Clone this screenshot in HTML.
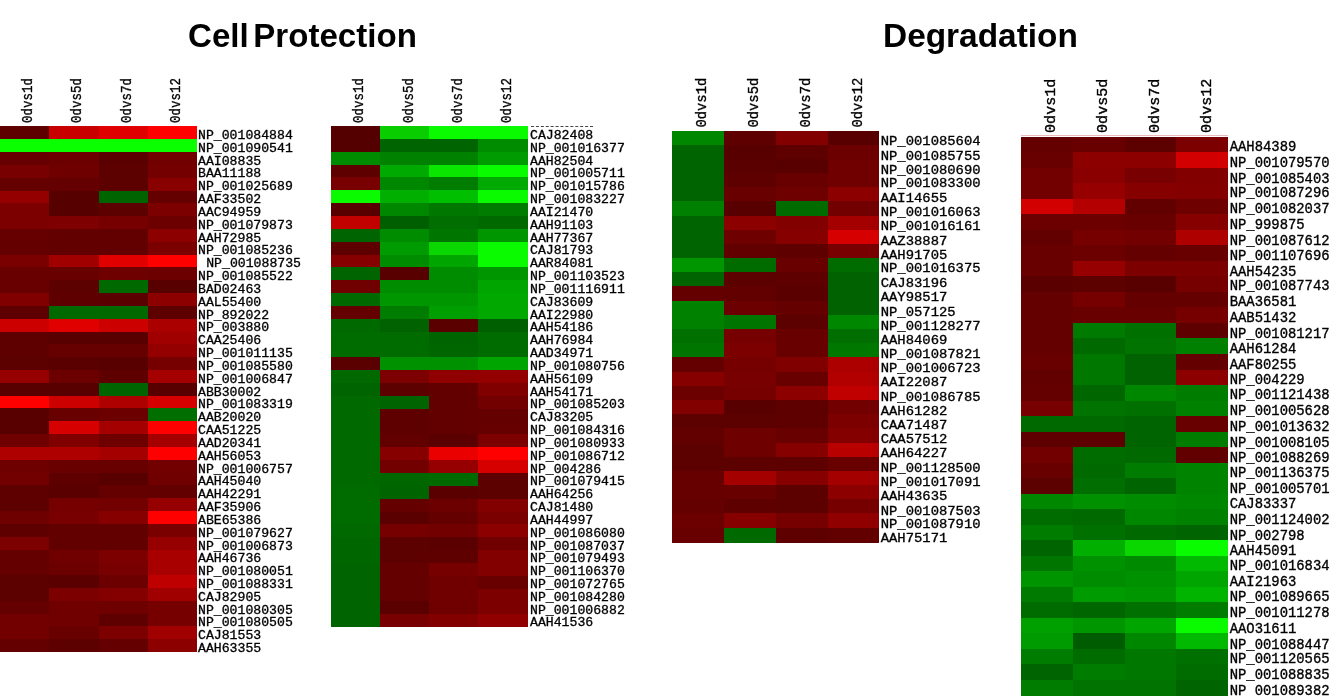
<!DOCTYPE html>
<html lang="en"><head><meta charset="utf-8"><title>Cell Protection / Degradation heatmaps</title>
<style>
html,body{margin:0;padding:0;background:#fff;}
body{width:1330px;height:696px;position:relative;overflow:hidden;font-family:"Liberation Mono",monospace;color:#000;-webkit-text-stroke:0.3px #000;}
.title{-webkit-text-stroke:0;position:absolute;top:0;font-family:"Liberation Sans",sans-serif;font-weight:bold;font-size:34px;line-height:40px;white-space:nowrap;transform-origin:0 0;letter-spacing:0;}
.hm{position:absolute;transform-origin:0 0;width:320px;}
.g{position:absolute;}
.g i{display:block;position:absolute;}
.ch{position:absolute;top:43.30px;font-size:12.5px;line-height:12px;height:12px;white-space:nowrap;transform-origin:0 0;transform:rotate(-90deg) scale(1,1.15);margin-left:-2.4px;}
.labels{position:absolute;left:197.80px;top:50.00px;font-size:12.2px;line-height:12.83px;letter-spacing:0;white-space:nowrap;transform-origin:0 0;transform:scaleX(1.08);}
.labels div{height:12.83px;}
</style></head><body>

<div class="title" id="t1" style="left:187.5px;top:14.7px;transform:scaleX(0.973);word-spacing:-4.7px">Cell Protection</div>
<div class="title" id="t2" style="left:882.8px;top:14.7px;transform:scaleX(0.9826)">Degradation</div>
<div class="g" style="left:0.00px;top:0px">
<i style="left:0.00px;top:126.00px;width:49.50px;height:13.50px;background:rgb(95,0,0)"></i>
<i style="left:49.00px;top:126.00px;width:50.00px;height:13.50px;background:rgb(200,0,0)"></i>
<i style="left:98.50px;top:126.00px;width:50.00px;height:13.50px;background:rgb(225,0,0)"></i>
<i style="left:148.00px;top:126.00px;width:49.00px;height:13.50px;background:rgb(255,0,0)"></i>
<i style="left:0.00px;top:139.00px;width:49.50px;height:13.50px;background:rgb(10,255,0)"></i>
<i style="left:49.00px;top:139.00px;width:50.00px;height:13.50px;background:rgb(10,255,0)"></i>
<i style="left:98.50px;top:139.00px;width:50.00px;height:13.50px;background:rgb(10,255,0)"></i>
<i style="left:148.00px;top:139.00px;width:49.00px;height:13.50px;background:rgb(10,255,0)"></i>
<i style="left:0.00px;top:152.00px;width:49.50px;height:13.00px;background:rgb(102,0,0)"></i>
<i style="left:49.00px;top:152.00px;width:50.00px;height:13.00px;background:rgb(108,0,0)"></i>
<i style="left:98.50px;top:152.00px;width:50.00px;height:13.00px;background:rgb(90,0,0)"></i>
<i style="left:148.00px;top:152.00px;width:49.00px;height:13.00px;background:rgb(113,0,0)"></i>
<i style="left:0.00px;top:164.50px;width:49.50px;height:13.50px;background:rgb(120,0,0)"></i>
<i style="left:49.00px;top:164.50px;width:50.00px;height:13.50px;background:rgb(110,0,0)"></i>
<i style="left:98.50px;top:164.50px;width:50.00px;height:13.50px;background:rgb(92,0,0)"></i>
<i style="left:148.00px;top:164.50px;width:49.00px;height:13.50px;background:rgb(116,0,0)"></i>
<i style="left:0.00px;top:177.50px;width:49.50px;height:13.50px;background:rgb(100,0,0)"></i>
<i style="left:49.00px;top:177.50px;width:50.00px;height:13.50px;background:rgb(100,0,0)"></i>
<i style="left:98.50px;top:177.50px;width:50.00px;height:13.50px;background:rgb(92,0,0)"></i>
<i style="left:148.00px;top:177.50px;width:49.00px;height:13.50px;background:rgb(137,0,0)"></i>
<i style="left:0.00px;top:190.50px;width:49.50px;height:13.00px;background:rgb(148,0,0)"></i>
<i style="left:49.00px;top:190.50px;width:50.00px;height:13.00px;background:rgb(87,0,0)"></i>
<i style="left:98.50px;top:190.50px;width:50.00px;height:13.00px;background:rgb(0,100,0)"></i>
<i style="left:148.00px;top:190.50px;width:49.00px;height:13.00px;background:rgb(100,0,0)"></i>
<i style="left:0.00px;top:203.00px;width:49.50px;height:13.50px;background:rgb(125,0,0)"></i>
<i style="left:49.00px;top:203.00px;width:50.00px;height:13.50px;background:rgb(87,0,0)"></i>
<i style="left:98.50px;top:203.00px;width:50.00px;height:13.50px;background:rgb(93,0,0)"></i>
<i style="left:148.00px;top:203.00px;width:49.00px;height:13.50px;background:rgb(125,0,0)"></i>
<i style="left:0.00px;top:216.00px;width:49.50px;height:13.50px;background:rgb(125,0,0)"></i>
<i style="left:49.00px;top:216.00px;width:50.00px;height:13.50px;background:rgb(127,0,0)"></i>
<i style="left:98.50px;top:216.00px;width:50.00px;height:13.50px;background:rgb(118,0,0)"></i>
<i style="left:148.00px;top:216.00px;width:49.00px;height:13.50px;background:rgb(108,0,0)"></i>
<i style="left:0.00px;top:229.00px;width:49.50px;height:13.00px;background:rgb(102,0,0)"></i>
<i style="left:49.00px;top:229.00px;width:50.00px;height:13.00px;background:rgb(98,0,0)"></i>
<i style="left:98.50px;top:229.00px;width:50.00px;height:13.00px;background:rgb(98,0,0)"></i>
<i style="left:148.00px;top:229.00px;width:49.00px;height:13.00px;background:rgb(140,0,0)"></i>
<i style="left:0.00px;top:241.50px;width:49.50px;height:13.50px;background:rgb(100,0,0)"></i>
<i style="left:49.00px;top:241.50px;width:50.00px;height:13.50px;background:rgb(98,0,0)"></i>
<i style="left:98.50px;top:241.50px;width:50.00px;height:13.50px;background:rgb(98,0,0)"></i>
<i style="left:148.00px;top:241.50px;width:49.00px;height:13.50px;background:rgb(123,0,0)"></i>
<i style="left:0.00px;top:254.50px;width:49.50px;height:13.00px;background:rgb(122,0,0)"></i>
<i style="left:49.00px;top:254.50px;width:50.00px;height:13.00px;background:rgb(160,0,0)"></i>
<i style="left:98.50px;top:254.50px;width:50.00px;height:13.00px;background:rgb(225,0,0)"></i>
<i style="left:148.00px;top:254.50px;width:49.00px;height:13.00px;background:rgb(255,0,0)"></i>
<i style="left:0.00px;top:267.00px;width:49.50px;height:13.50px;background:rgb(105,0,0)"></i>
<i style="left:49.00px;top:267.00px;width:50.00px;height:13.50px;background:rgb(105,0,0)"></i>
<i style="left:98.50px;top:267.00px;width:50.00px;height:13.50px;background:rgb(110,0,0)"></i>
<i style="left:148.00px;top:267.00px;width:49.00px;height:13.50px;background:rgb(108,0,0)"></i>
<i style="left:0.00px;top:280.00px;width:49.50px;height:13.50px;background:rgb(105,0,0)"></i>
<i style="left:49.00px;top:280.00px;width:50.00px;height:13.50px;background:rgb(92,0,0)"></i>
<i style="left:98.50px;top:280.00px;width:50.00px;height:13.50px;background:rgb(0,105,0)"></i>
<i style="left:148.00px;top:280.00px;width:49.00px;height:13.50px;background:rgb(88,0,0)"></i>
<i style="left:0.00px;top:293.00px;width:49.50px;height:13.00px;background:rgb(128,0,0)"></i>
<i style="left:49.00px;top:293.00px;width:50.00px;height:13.00px;background:rgb(95,0,0)"></i>
<i style="left:98.50px;top:293.00px;width:50.00px;height:13.00px;background:rgb(90,0,0)"></i>
<i style="left:148.00px;top:293.00px;width:49.00px;height:13.00px;background:rgb(140,0,0)"></i>
<i style="left:0.00px;top:305.50px;width:49.50px;height:13.50px;background:rgb(95,0,0)"></i>
<i style="left:49.00px;top:305.50px;width:50.00px;height:13.50px;background:rgb(0,105,0)"></i>
<i style="left:98.50px;top:305.50px;width:50.00px;height:13.50px;background:rgb(0,105,0)"></i>
<i style="left:148.00px;top:305.50px;width:49.00px;height:13.50px;background:rgb(92,0,0)"></i>
<i style="left:0.00px;top:318.50px;width:49.50px;height:13.50px;background:rgb(205,0,0)"></i>
<i style="left:49.00px;top:318.50px;width:50.00px;height:13.50px;background:rgb(225,0,0)"></i>
<i style="left:98.50px;top:318.50px;width:50.00px;height:13.50px;background:rgb(205,0,0)"></i>
<i style="left:148.00px;top:318.50px;width:49.00px;height:13.50px;background:rgb(170,0,0)"></i>
<i style="left:0.00px;top:331.50px;width:49.50px;height:13.00px;background:rgb(95,0,0)"></i>
<i style="left:49.00px;top:331.50px;width:50.00px;height:13.00px;background:rgb(88,0,0)"></i>
<i style="left:98.50px;top:331.50px;width:50.00px;height:13.00px;background:rgb(88,0,0)"></i>
<i style="left:148.00px;top:331.50px;width:49.00px;height:13.00px;background:rgb(160,0,0)"></i>
<i style="left:0.00px;top:344.00px;width:49.50px;height:13.50px;background:rgb(95,0,0)"></i>
<i style="left:49.00px;top:344.00px;width:50.00px;height:13.50px;background:rgb(102,0,0)"></i>
<i style="left:98.50px;top:344.00px;width:50.00px;height:13.50px;background:rgb(102,0,0)"></i>
<i style="left:148.00px;top:344.00px;width:49.00px;height:13.50px;background:rgb(148,0,0)"></i>
<i style="left:0.00px;top:357.00px;width:49.50px;height:13.50px;background:rgb(92,0,0)"></i>
<i style="left:49.00px;top:357.00px;width:50.00px;height:13.50px;background:rgb(90,0,0)"></i>
<i style="left:98.50px;top:357.00px;width:50.00px;height:13.50px;background:rgb(88,0,0)"></i>
<i style="left:148.00px;top:357.00px;width:49.00px;height:13.50px;background:rgb(118,0,0)"></i>
<i style="left:0.00px;top:370.00px;width:49.50px;height:13.00px;background:rgb(150,0,0)"></i>
<i style="left:49.00px;top:370.00px;width:50.00px;height:13.00px;background:rgb(108,0,0)"></i>
<i style="left:98.50px;top:370.00px;width:50.00px;height:13.00px;background:rgb(95,0,0)"></i>
<i style="left:148.00px;top:370.00px;width:49.00px;height:13.00px;background:rgb(165,0,0)"></i>
<i style="left:0.00px;top:382.50px;width:49.50px;height:13.50px;background:rgb(88,0,0)"></i>
<i style="left:49.00px;top:382.50px;width:50.00px;height:13.50px;background:rgb(88,0,0)"></i>
<i style="left:98.50px;top:382.50px;width:50.00px;height:13.50px;background:rgb(0,100,0)"></i>
<i style="left:148.00px;top:382.50px;width:49.00px;height:13.50px;background:rgb(88,0,0)"></i>
<i style="left:0.00px;top:395.50px;width:49.50px;height:13.00px;background:rgb(255,0,0)"></i>
<i style="left:49.00px;top:395.50px;width:50.00px;height:13.00px;background:rgb(205,0,0)"></i>
<i style="left:98.50px;top:395.50px;width:50.00px;height:13.00px;background:rgb(175,0,0)"></i>
<i style="left:148.00px;top:395.50px;width:49.00px;height:13.00px;background:rgb(215,0,0)"></i>
<i style="left:0.00px;top:408.00px;width:49.50px;height:13.50px;background:rgb(88,0,0)"></i>
<i style="left:49.00px;top:408.00px;width:50.00px;height:13.50px;background:rgb(105,0,0)"></i>
<i style="left:98.50px;top:408.00px;width:50.00px;height:13.50px;background:rgb(108,0,0)"></i>
<i style="left:148.00px;top:408.00px;width:49.00px;height:13.50px;background:rgb(0,110,0)"></i>
<i style="left:0.00px;top:421.00px;width:49.50px;height:13.50px;background:rgb(88,0,0)"></i>
<i style="left:49.00px;top:421.00px;width:50.00px;height:13.50px;background:rgb(215,0,0)"></i>
<i style="left:98.50px;top:421.00px;width:50.00px;height:13.50px;background:rgb(165,0,0)"></i>
<i style="left:148.00px;top:421.00px;width:49.00px;height:13.50px;background:rgb(255,0,0)"></i>
<i style="left:0.00px;top:434.00px;width:49.50px;height:13.00px;background:rgb(110,0,0)"></i>
<i style="left:49.00px;top:434.00px;width:50.00px;height:13.00px;background:rgb(128,0,0)"></i>
<i style="left:98.50px;top:434.00px;width:50.00px;height:13.00px;background:rgb(110,0,0)"></i>
<i style="left:148.00px;top:434.00px;width:49.00px;height:13.00px;background:rgb(165,0,0)"></i>
<i style="left:0.00px;top:446.50px;width:49.50px;height:13.50px;background:rgb(175,0,0)"></i>
<i style="left:49.00px;top:446.50px;width:50.00px;height:13.50px;background:rgb(175,0,0)"></i>
<i style="left:98.50px;top:446.50px;width:50.00px;height:13.50px;background:rgb(165,0,0)"></i>
<i style="left:148.00px;top:446.50px;width:49.00px;height:13.50px;background:rgb(255,0,0)"></i>
<i style="left:0.00px;top:459.50px;width:49.50px;height:13.50px;background:rgb(110,0,0)"></i>
<i style="left:49.00px;top:459.50px;width:50.00px;height:13.50px;background:rgb(105,0,0)"></i>
<i style="left:98.50px;top:459.50px;width:50.00px;height:13.50px;background:rgb(105,0,0)"></i>
<i style="left:148.00px;top:459.50px;width:49.00px;height:13.50px;background:rgb(115,0,0)"></i>
<i style="left:0.00px;top:472.50px;width:49.50px;height:13.00px;background:rgb(115,0,0)"></i>
<i style="left:49.00px;top:472.50px;width:50.00px;height:13.00px;background:rgb(95,0,0)"></i>
<i style="left:98.50px;top:472.50px;width:50.00px;height:13.00px;background:rgb(88,0,0)"></i>
<i style="left:148.00px;top:472.50px;width:49.00px;height:13.00px;background:rgb(112,0,0)"></i>
<i style="left:0.00px;top:485.00px;width:49.50px;height:13.50px;background:rgb(95,0,0)"></i>
<i style="left:49.00px;top:485.00px;width:50.00px;height:13.50px;background:rgb(90,0,0)"></i>
<i style="left:98.50px;top:485.00px;width:50.00px;height:13.50px;background:rgb(100,0,0)"></i>
<i style="left:148.00px;top:485.00px;width:49.00px;height:13.50px;background:rgb(98,0,0)"></i>
<i style="left:0.00px;top:498.00px;width:49.50px;height:13.50px;background:rgb(92,0,0)"></i>
<i style="left:49.00px;top:498.00px;width:50.00px;height:13.50px;background:rgb(118,0,0)"></i>
<i style="left:98.50px;top:498.00px;width:50.00px;height:13.50px;background:rgb(115,0,0)"></i>
<i style="left:148.00px;top:498.00px;width:49.00px;height:13.50px;background:rgb(150,0,0)"></i>
<i style="left:0.00px;top:511.00px;width:49.50px;height:13.00px;background:rgb(110,0,0)"></i>
<i style="left:49.00px;top:511.00px;width:50.00px;height:13.00px;background:rgb(120,0,0)"></i>
<i style="left:98.50px;top:511.00px;width:50.00px;height:13.00px;background:rgb(135,0,0)"></i>
<i style="left:148.00px;top:511.00px;width:49.00px;height:13.00px;background:rgb(255,0,0)"></i>
<i style="left:0.00px;top:523.50px;width:49.50px;height:13.50px;background:rgb(95,0,0)"></i>
<i style="left:49.00px;top:523.50px;width:50.00px;height:13.50px;background:rgb(98,0,0)"></i>
<i style="left:98.50px;top:523.50px;width:50.00px;height:13.50px;background:rgb(98,0,0)"></i>
<i style="left:148.00px;top:523.50px;width:49.00px;height:13.50px;background:rgb(122,0,0)"></i>
<i style="left:0.00px;top:536.50px;width:49.50px;height:13.50px;background:rgb(125,0,0)"></i>
<i style="left:49.00px;top:536.50px;width:50.00px;height:13.50px;background:rgb(98,0,0)"></i>
<i style="left:98.50px;top:536.50px;width:50.00px;height:13.50px;background:rgb(98,0,0)"></i>
<i style="left:148.00px;top:536.50px;width:49.00px;height:13.50px;background:rgb(150,0,0)"></i>
<i style="left:0.00px;top:549.50px;width:49.50px;height:13.00px;background:rgb(100,0,0)"></i>
<i style="left:49.00px;top:549.50px;width:50.00px;height:13.00px;background:rgb(112,0,0)"></i>
<i style="left:98.50px;top:549.50px;width:50.00px;height:13.00px;background:rgb(125,0,0)"></i>
<i style="left:148.00px;top:549.50px;width:49.00px;height:13.00px;background:rgb(168,0,0)"></i>
<i style="left:0.00px;top:562.00px;width:49.50px;height:13.50px;background:rgb(100,0,0)"></i>
<i style="left:49.00px;top:562.00px;width:50.00px;height:13.50px;background:rgb(108,0,0)"></i>
<i style="left:98.50px;top:562.00px;width:50.00px;height:13.50px;background:rgb(120,0,0)"></i>
<i style="left:148.00px;top:562.00px;width:49.00px;height:13.50px;background:rgb(168,0,0)"></i>
<i style="left:0.00px;top:575.00px;width:49.50px;height:13.00px;background:rgb(92,0,0)"></i>
<i style="left:49.00px;top:575.00px;width:50.00px;height:13.00px;background:rgb(90,0,0)"></i>
<i style="left:98.50px;top:575.00px;width:50.00px;height:13.00px;background:rgb(108,0,0)"></i>
<i style="left:148.00px;top:575.00px;width:49.00px;height:13.00px;background:rgb(190,0,0)"></i>
<i style="left:0.00px;top:587.50px;width:49.50px;height:13.50px;background:rgb(92,0,0)"></i>
<i style="left:49.00px;top:587.50px;width:50.00px;height:13.50px;background:rgb(125,0,0)"></i>
<i style="left:98.50px;top:587.50px;width:50.00px;height:13.50px;background:rgb(132,0,0)"></i>
<i style="left:148.00px;top:587.50px;width:49.00px;height:13.50px;background:rgb(160,0,0)"></i>
<i style="left:0.00px;top:600.50px;width:49.50px;height:13.50px;background:rgb(100,0,0)"></i>
<i style="left:49.00px;top:600.50px;width:50.00px;height:13.50px;background:rgb(112,0,0)"></i>
<i style="left:98.50px;top:600.50px;width:50.00px;height:13.50px;background:rgb(110,0,0)"></i>
<i style="left:148.00px;top:600.50px;width:49.00px;height:13.50px;background:rgb(118,0,0)"></i>
<i style="left:0.00px;top:613.50px;width:49.50px;height:13.00px;background:rgb(115,0,0)"></i>
<i style="left:49.00px;top:613.50px;width:50.00px;height:13.00px;background:rgb(112,0,0)"></i>
<i style="left:98.50px;top:613.50px;width:50.00px;height:13.00px;background:rgb(95,0,0)"></i>
<i style="left:148.00px;top:613.50px;width:49.00px;height:13.00px;background:rgb(118,0,0)"></i>
<i style="left:0.00px;top:626.00px;width:49.50px;height:13.50px;background:rgb(115,0,0)"></i>
<i style="left:49.00px;top:626.00px;width:50.00px;height:13.50px;background:rgb(105,0,0)"></i>
<i style="left:98.50px;top:626.00px;width:50.00px;height:13.50px;background:rgb(125,0,0)"></i>
<i style="left:148.00px;top:626.00px;width:49.00px;height:13.50px;background:rgb(160,0,0)"></i>
<i style="left:0.00px;top:639.00px;width:49.50px;height:13.00px;background:rgb(100,0,0)"></i>
<i style="left:49.00px;top:639.00px;width:50.00px;height:13.00px;background:rgb(92,0,0)"></i>
<i style="left:98.50px;top:639.00px;width:50.00px;height:13.00px;background:rgb(100,0,0)"></i>
<i style="left:148.00px;top:639.00px;width:49.00px;height:13.00px;background:rgb(140,0,0)"></i>
</div>
<div class="hm" style="left:0.00px;top:79.54px;transform:scale(1.0000,0.9992)">
<div class="ch" style="left:24.62px">0dvs1d</div>
<div class="ch" style="left:73.88px">0dvs5d</div>
<div class="ch" style="left:123.12px">0dvs7d</div>
<div class="ch" style="left:172.38px">0dvs12</div>
</div>
<div class="hm" style="left:0.00px;top:79.54px;transform:scale(1.0000,0.9992)">
<div class="labels">
<div>NP_001084884</div>
<div>NP_001090541</div>
<div>AAI08835</div>
<div>BAA11188</div>
<div>NP_001025689</div>
<div>AAF33502</div>
<div>AAC94959</div>
<div>NP_001079873</div>
<div>AAH72985</div>
<div>NP_001085236</div>
<div style="padding-left:7.6px">NP_001088735</div>
<div>NP_001085522</div>
<div>BAD02463</div>
<div>AAL55400</div>
<div>NP_892022</div>
<div>NP_003880</div>
<div>CAA25406</div>
<div>NP_001011135</div>
<div>NP_001085580</div>
<div>NP_001006847</div>
<div>ABB30002</div>
<div>NP_001083319</div>
<div>AAB20020</div>
<div>CAA51225</div>
<div>AAD20341</div>
<div>AAH56053</div>
<div>NP_001006757</div>
<div>AAH45040</div>
<div>AAH42291</div>
<div>AAF35906</div>
<div>ABE65386</div>
<div>NP_001079627</div>
<div>NP_001006873</div>
<div>AAH46736</div>
<div>NP_001080051</div>
<div>NP_001088331</div>
<div>CAJ82905</div>
<div>NP_001080305</div>
<div>NP_001080505</div>
<div>CAJ81553</div>
<div>AAH63355</div>
</div>
</div>
<div class="g" style="left:331.10px;top:0px">
<i style="left:-0.10px;top:126.00px;width:50.00px;height:13.00px;background:rgb(85,0,0)"></i>
<i style="left:49.40px;top:126.00px;width:49.50px;height:13.00px;background:rgb(10,205,0)"></i>
<i style="left:98.40px;top:126.00px;width:49.50px;height:13.00px;background:rgb(10,250,0)"></i>
<i style="left:147.40px;top:126.00px;width:49.50px;height:13.00px;background:rgb(10,250,0)"></i>
<i style="left:-0.10px;top:138.50px;width:50.00px;height:13.50px;background:rgb(85,0,0)"></i>
<i style="left:49.40px;top:138.50px;width:49.50px;height:13.50px;background:rgb(0,100,0)"></i>
<i style="left:98.40px;top:138.50px;width:49.50px;height:13.50px;background:rgb(0,100,0)"></i>
<i style="left:147.40px;top:138.50px;width:49.50px;height:13.50px;background:rgb(0,140,0)"></i>
<i style="left:-0.10px;top:151.50px;width:50.00px;height:13.50px;background:rgb(0,140,0)"></i>
<i style="left:49.40px;top:151.50px;width:49.50px;height:13.50px;background:rgb(0,130,0)"></i>
<i style="left:98.40px;top:151.50px;width:49.50px;height:13.50px;background:rgb(0,130,0)"></i>
<i style="left:147.40px;top:151.50px;width:49.50px;height:13.50px;background:rgb(0,155,0)"></i>
<i style="left:-0.10px;top:164.50px;width:50.00px;height:13.00px;background:rgb(95,0,0)"></i>
<i style="left:49.40px;top:164.50px;width:49.50px;height:13.00px;background:rgb(0,170,0)"></i>
<i style="left:98.40px;top:164.50px;width:49.50px;height:13.00px;background:rgb(10,230,0)"></i>
<i style="left:147.40px;top:164.50px;width:49.50px;height:13.00px;background:rgb(10,252,0)"></i>
<i style="left:-0.10px;top:177.00px;width:50.00px;height:13.50px;background:rgb(120,0,0)"></i>
<i style="left:49.40px;top:177.00px;width:49.50px;height:13.50px;background:rgb(0,135,0)"></i>
<i style="left:98.40px;top:177.00px;width:49.50px;height:13.50px;background:rgb(0,125,0)"></i>
<i style="left:147.40px;top:177.00px;width:49.50px;height:13.50px;background:rgb(0,170,0)"></i>
<i style="left:-0.10px;top:190.00px;width:50.00px;height:13.50px;background:rgb(10,250,0)"></i>
<i style="left:49.40px;top:190.00px;width:49.50px;height:13.50px;background:rgb(0,175,0)"></i>
<i style="left:98.40px;top:190.00px;width:49.50px;height:13.50px;background:rgb(0,190,0)"></i>
<i style="left:147.40px;top:190.00px;width:49.50px;height:13.50px;background:rgb(10,250,0)"></i>
<i style="left:-0.10px;top:203.00px;width:50.00px;height:13.50px;background:rgb(88,0,0)"></i>
<i style="left:49.40px;top:203.00px;width:49.50px;height:13.50px;background:rgb(0,135,0)"></i>
<i style="left:98.40px;top:203.00px;width:49.50px;height:13.50px;background:rgb(0,120,0)"></i>
<i style="left:147.40px;top:203.00px;width:49.50px;height:13.50px;background:rgb(0,125,0)"></i>
<i style="left:-0.10px;top:216.00px;width:50.00px;height:13.00px;background:rgb(193,0,0)"></i>
<i style="left:49.40px;top:216.00px;width:49.50px;height:13.00px;background:rgb(0,95,0)"></i>
<i style="left:98.40px;top:216.00px;width:49.50px;height:13.00px;background:rgb(0,110,0)"></i>
<i style="left:147.40px;top:216.00px;width:49.50px;height:13.00px;background:rgb(0,105,0)"></i>
<i style="left:-0.10px;top:228.50px;width:50.00px;height:13.50px;background:rgb(0,100,0)"></i>
<i style="left:49.40px;top:228.50px;width:49.50px;height:13.50px;background:rgb(0,140,0)"></i>
<i style="left:98.40px;top:228.50px;width:49.50px;height:13.50px;background:rgb(0,118,0)"></i>
<i style="left:147.40px;top:228.50px;width:49.50px;height:13.50px;background:rgb(0,150,0)"></i>
<i style="left:-0.10px;top:241.50px;width:50.00px;height:13.50px;background:rgb(95,0,0)"></i>
<i style="left:49.40px;top:241.50px;width:49.50px;height:13.50px;background:rgb(0,155,0)"></i>
<i style="left:98.40px;top:241.50px;width:49.50px;height:13.50px;background:rgb(10,215,0)"></i>
<i style="left:147.40px;top:241.50px;width:49.50px;height:13.50px;background:rgb(10,250,0)"></i>
<i style="left:-0.10px;top:254.50px;width:50.00px;height:13.00px;background:rgb(135,0,0)"></i>
<i style="left:49.40px;top:254.50px;width:49.50px;height:13.00px;background:rgb(0,140,0)"></i>
<i style="left:98.40px;top:254.50px;width:49.50px;height:13.00px;background:rgb(0,165,0)"></i>
<i style="left:147.40px;top:254.50px;width:49.50px;height:13.00px;background:rgb(10,250,0)"></i>
<i style="left:-0.10px;top:267.00px;width:50.00px;height:13.50px;background:rgb(0,100,0)"></i>
<i style="left:49.40px;top:267.00px;width:49.50px;height:13.50px;background:rgb(88,0,0)"></i>
<i style="left:98.40px;top:267.00px;width:49.50px;height:13.50px;background:rgb(0,140,0)"></i>
<i style="left:147.40px;top:267.00px;width:49.50px;height:13.50px;background:rgb(0,150,0)"></i>
<i style="left:-0.10px;top:280.00px;width:50.00px;height:13.50px;background:rgb(112,0,0)"></i>
<i style="left:49.40px;top:280.00px;width:49.50px;height:13.50px;background:rgb(0,140,0)"></i>
<i style="left:98.40px;top:280.00px;width:49.50px;height:13.50px;background:rgb(0,140,0)"></i>
<i style="left:147.40px;top:280.00px;width:49.50px;height:13.50px;background:rgb(0,165,0)"></i>
<i style="left:-0.10px;top:293.00px;width:50.00px;height:13.00px;background:rgb(0,105,0)"></i>
<i style="left:49.40px;top:293.00px;width:49.50px;height:13.00px;background:rgb(0,150,0)"></i>
<i style="left:98.40px;top:293.00px;width:49.50px;height:13.00px;background:rgb(0,150,0)"></i>
<i style="left:147.40px;top:293.00px;width:49.50px;height:13.00px;background:rgb(0,168,0)"></i>
<i style="left:-0.10px;top:305.50px;width:50.00px;height:13.50px;background:rgb(100,0,0)"></i>
<i style="left:49.40px;top:305.50px;width:49.50px;height:13.50px;background:rgb(0,125,0)"></i>
<i style="left:98.40px;top:305.50px;width:49.50px;height:13.50px;background:rgb(0,158,0)"></i>
<i style="left:147.40px;top:305.50px;width:49.50px;height:13.50px;background:rgb(0,168,0)"></i>
<i style="left:-0.10px;top:318.50px;width:50.00px;height:13.50px;background:rgb(0,105,0)"></i>
<i style="left:49.40px;top:318.50px;width:49.50px;height:13.50px;background:rgb(0,98,0)"></i>
<i style="left:98.40px;top:318.50px;width:49.50px;height:13.50px;background:rgb(90,0,0)"></i>
<i style="left:147.40px;top:318.50px;width:49.50px;height:13.50px;background:rgb(0,95,0)"></i>
<i style="left:-0.10px;top:331.50px;width:50.00px;height:13.00px;background:rgb(0,108,0)"></i>
<i style="left:49.40px;top:331.50px;width:49.50px;height:13.00px;background:rgb(0,108,0)"></i>
<i style="left:98.40px;top:331.50px;width:49.50px;height:13.00px;background:rgb(0,100,0)"></i>
<i style="left:147.40px;top:331.50px;width:49.50px;height:13.00px;background:rgb(0,108,0)"></i>
<i style="left:-0.10px;top:344.00px;width:50.00px;height:13.50px;background:rgb(0,108,0)"></i>
<i style="left:49.40px;top:344.00px;width:49.50px;height:13.50px;background:rgb(0,108,0)"></i>
<i style="left:98.40px;top:344.00px;width:49.50px;height:13.50px;background:rgb(0,102,0)"></i>
<i style="left:147.40px;top:344.00px;width:49.50px;height:13.50px;background:rgb(0,108,0)"></i>
<i style="left:-0.10px;top:357.00px;width:50.00px;height:13.50px;background:rgb(90,0,0)"></i>
<i style="left:49.40px;top:357.00px;width:49.50px;height:13.50px;background:rgb(0,145,0)"></i>
<i style="left:98.40px;top:357.00px;width:49.50px;height:13.50px;background:rgb(0,145,0)"></i>
<i style="left:147.40px;top:357.00px;width:49.50px;height:13.50px;background:rgb(0,165,0)"></i>
<i style="left:-0.10px;top:370.00px;width:50.00px;height:13.50px;background:rgb(0,105,0)"></i>
<i style="left:49.40px;top:370.00px;width:49.50px;height:13.50px;background:rgb(125,0,0)"></i>
<i style="left:98.40px;top:370.00px;width:49.50px;height:13.50px;background:rgb(145,0,0)"></i>
<i style="left:147.40px;top:370.00px;width:49.50px;height:13.50px;background:rgb(148,0,0)"></i>
<i style="left:-0.10px;top:383.00px;width:50.00px;height:13.00px;background:rgb(0,100,0)"></i>
<i style="left:49.40px;top:383.00px;width:49.50px;height:13.00px;background:rgb(92,0,0)"></i>
<i style="left:98.40px;top:383.00px;width:49.50px;height:13.00px;background:rgb(98,0,0)"></i>
<i style="left:147.40px;top:383.00px;width:49.50px;height:13.00px;background:rgb(128,0,0)"></i>
<i style="left:-0.10px;top:395.50px;width:50.00px;height:13.50px;background:rgb(0,105,0)"></i>
<i style="left:49.40px;top:395.50px;width:49.50px;height:13.50px;background:rgb(0,100,0)"></i>
<i style="left:98.40px;top:395.50px;width:49.50px;height:13.50px;background:rgb(98,0,0)"></i>
<i style="left:147.40px;top:395.50px;width:49.50px;height:13.50px;background:rgb(115,0,0)"></i>
<i style="left:-0.10px;top:408.50px;width:50.00px;height:13.50px;background:rgb(0,105,0)"></i>
<i style="left:49.40px;top:408.50px;width:49.50px;height:13.50px;background:rgb(95,0,0)"></i>
<i style="left:98.40px;top:408.50px;width:49.50px;height:13.50px;background:rgb(98,0,0)"></i>
<i style="left:147.40px;top:408.50px;width:49.50px;height:13.50px;background:rgb(100,0,0)"></i>
<i style="left:-0.10px;top:421.50px;width:50.00px;height:13.00px;background:rgb(0,105,0)"></i>
<i style="left:49.40px;top:421.50px;width:49.50px;height:13.00px;background:rgb(95,0,0)"></i>
<i style="left:98.40px;top:421.50px;width:49.50px;height:13.00px;background:rgb(98,0,0)"></i>
<i style="left:147.40px;top:421.50px;width:49.50px;height:13.00px;background:rgb(102,0,0)"></i>
<i style="left:-0.10px;top:434.00px;width:50.00px;height:13.50px;background:rgb(0,105,0)"></i>
<i style="left:49.40px;top:434.00px;width:49.50px;height:13.50px;background:rgb(98,0,0)"></i>
<i style="left:98.40px;top:434.00px;width:49.50px;height:13.50px;background:rgb(90,0,0)"></i>
<i style="left:147.40px;top:434.00px;width:49.50px;height:13.50px;background:rgb(125,0,0)"></i>
<i style="left:-0.10px;top:447.00px;width:50.00px;height:13.50px;background:rgb(0,105,0)"></i>
<i style="left:49.40px;top:447.00px;width:49.50px;height:13.50px;background:rgb(135,0,0)"></i>
<i style="left:98.40px;top:447.00px;width:49.50px;height:13.50px;background:rgb(235,0,0)"></i>
<i style="left:147.40px;top:447.00px;width:49.50px;height:13.50px;background:rgb(255,0,0)"></i>
<i style="left:-0.10px;top:460.00px;width:50.00px;height:13.50px;background:rgb(0,105,0)"></i>
<i style="left:49.40px;top:460.00px;width:49.50px;height:13.50px;background:rgb(115,0,0)"></i>
<i style="left:98.40px;top:460.00px;width:49.50px;height:13.50px;background:rgb(150,0,0)"></i>
<i style="left:147.40px;top:460.00px;width:49.50px;height:13.50px;background:rgb(215,0,0)"></i>
<i style="left:-0.10px;top:473.00px;width:50.00px;height:13.00px;background:rgb(0,105,0)"></i>
<i style="left:49.40px;top:473.00px;width:49.50px;height:13.00px;background:rgb(0,102,0)"></i>
<i style="left:98.40px;top:473.00px;width:49.50px;height:13.00px;background:rgb(0,105,0)"></i>
<i style="left:147.40px;top:473.00px;width:49.50px;height:13.00px;background:rgb(92,0,0)"></i>
<i style="left:-0.10px;top:485.50px;width:50.00px;height:13.50px;background:rgb(0,108,0)"></i>
<i style="left:49.40px;top:485.50px;width:49.50px;height:13.50px;background:rgb(0,100,0)"></i>
<i style="left:98.40px;top:485.50px;width:49.50px;height:13.50px;background:rgb(90,0,0)"></i>
<i style="left:147.40px;top:485.50px;width:49.50px;height:13.50px;background:rgb(92,0,0)"></i>
<i style="left:-0.10px;top:498.50px;width:50.00px;height:13.50px;background:rgb(0,108,0)"></i>
<i style="left:49.40px;top:498.50px;width:49.50px;height:13.50px;background:rgb(100,0,0)"></i>
<i style="left:98.40px;top:498.50px;width:49.50px;height:13.50px;background:rgb(108,0,0)"></i>
<i style="left:147.40px;top:498.50px;width:49.50px;height:13.50px;background:rgb(130,0,0)"></i>
<i style="left:-0.10px;top:511.50px;width:50.00px;height:13.00px;background:rgb(0,108,0)"></i>
<i style="left:49.40px;top:511.50px;width:49.50px;height:13.00px;background:rgb(90,0,0)"></i>
<i style="left:98.40px;top:511.50px;width:49.50px;height:13.00px;background:rgb(100,0,0)"></i>
<i style="left:147.40px;top:511.50px;width:49.50px;height:13.00px;background:rgb(122,0,0)"></i>
<i style="left:-0.10px;top:524.00px;width:50.00px;height:13.50px;background:rgb(0,105,0)"></i>
<i style="left:49.40px;top:524.00px;width:49.50px;height:13.50px;background:rgb(118,0,0)"></i>
<i style="left:98.40px;top:524.00px;width:49.50px;height:13.50px;background:rgb(115,0,0)"></i>
<i style="left:147.40px;top:524.00px;width:49.50px;height:13.50px;background:rgb(140,0,0)"></i>
<i style="left:-0.10px;top:537.00px;width:50.00px;height:13.50px;background:rgb(0,102,0)"></i>
<i style="left:49.40px;top:537.00px;width:49.50px;height:13.50px;background:rgb(92,0,0)"></i>
<i style="left:98.40px;top:537.00px;width:49.50px;height:13.50px;background:rgb(90,0,0)"></i>
<i style="left:147.40px;top:537.00px;width:49.50px;height:13.50px;background:rgb(112,0,0)"></i>
<i style="left:-0.10px;top:550.00px;width:50.00px;height:13.00px;background:rgb(0,102,0)"></i>
<i style="left:49.40px;top:550.00px;width:49.50px;height:13.00px;background:rgb(92,0,0)"></i>
<i style="left:98.40px;top:550.00px;width:49.50px;height:13.00px;background:rgb(95,0,0)"></i>
<i style="left:147.40px;top:550.00px;width:49.50px;height:13.00px;background:rgb(130,0,0)"></i>
<i style="left:-0.10px;top:562.50px;width:50.00px;height:13.50px;background:rgb(0,100,0)"></i>
<i style="left:49.40px;top:562.50px;width:49.50px;height:13.50px;background:rgb(100,0,0)"></i>
<i style="left:98.40px;top:562.50px;width:49.50px;height:13.50px;background:rgb(118,0,0)"></i>
<i style="left:147.40px;top:562.50px;width:49.50px;height:13.50px;background:rgb(130,0,0)"></i>
<i style="left:-0.10px;top:575.50px;width:50.00px;height:13.50px;background:rgb(0,100,0)"></i>
<i style="left:49.40px;top:575.50px;width:49.50px;height:13.50px;background:rgb(100,0,0)"></i>
<i style="left:98.40px;top:575.50px;width:49.50px;height:13.50px;background:rgb(112,0,0)"></i>
<i style="left:147.40px;top:575.50px;width:49.50px;height:13.50px;background:rgb(105,0,0)"></i>
<i style="left:-0.10px;top:588.50px;width:50.00px;height:13.00px;background:rgb(0,100,0)"></i>
<i style="left:49.40px;top:588.50px;width:49.50px;height:13.00px;background:rgb(100,0,0)"></i>
<i style="left:98.40px;top:588.50px;width:49.50px;height:13.00px;background:rgb(112,0,0)"></i>
<i style="left:147.40px;top:588.50px;width:49.50px;height:13.00px;background:rgb(125,0,0)"></i>
<i style="left:-0.10px;top:601.00px;width:50.00px;height:13.50px;background:rgb(0,100,0)"></i>
<i style="left:49.40px;top:601.00px;width:49.50px;height:13.50px;background:rgb(90,0,0)"></i>
<i style="left:98.40px;top:601.00px;width:49.50px;height:13.50px;background:rgb(110,0,0)"></i>
<i style="left:147.40px;top:601.00px;width:49.50px;height:13.50px;background:rgb(125,0,0)"></i>
<i style="left:-0.10px;top:614.00px;width:50.00px;height:12.50px;background:rgb(0,100,0)"></i>
<i style="left:49.40px;top:614.00px;width:49.50px;height:12.50px;background:rgb(120,0,0)"></i>
<i style="left:98.40px;top:614.00px;width:49.50px;height:12.50px;background:rgb(130,0,0)"></i>
<i style="left:147.40px;top:614.00px;width:49.50px;height:12.50px;background:rgb(145,0,0)"></i>
</div>
<div class="hm" style="left:331.10px;top:79.54px;transform:scale(1.0000,0.9992)">
<div class="ch" style="left:24.62px">0dvs1d</div>
<div class="ch" style="left:73.88px">0dvs5d</div>
<div class="ch" style="left:123.12px">0dvs7d</div>
<div class="ch" style="left:172.38px">0dvs12</div>
</div>
<div class="hm" style="left:332.10px;top:80.44px;transform:scale(1.0000,0.9992)">
<div class="labels">
<div>CAJ82408</div>
<div>NP_001016377</div>
<div>AAH82504</div>
<div>NP_001005711</div>
<div>NP_001015786</div>
<div>NP_001083227</div>
<div>AAI21470</div>
<div>AAH91103</div>
<div>AAH77367</div>
<div>CAJ81793</div>
<div>AAR84081</div>
<div>NP_001103523</div>
<div>NP_001116911</div>
<div>CAJ83609</div>
<div>AAI22980</div>
<div>AAH54186</div>
<div>AAH76984</div>
<div>AAD34971</div>
<div>NP_001080756</div>
<div>AAH56109</div>
<div>AAH54171</div>
<div>NP_001085203</div>
<div>CAJ83205</div>
<div>NP_001084316</div>
<div>NP_001080933</div>
<div>NP_001086712</div>
<div>NP_004286</div>
<div>NP_001079415</div>
<div>AAH64256</div>
<div>CAJ81480</div>
<div>AAH44997</div>
<div>NP_001086080</div>
<div>NP_001087037</div>
<div>NP_001079493</div>
<div>NP_001106370</div>
<div>NP_001072765</div>
<div>NP_001084280</div>
<div>NP_001006882</div>
<div>AAH41536</div>
</div>
</div>
<div class="g" style="left:672.20px;top:0px">
<i style="left:-0.20px;top:131.00px;width:52.50px;height:14.00px;background:rgb(0,135,0)"></i>
<i style="left:51.80px;top:131.00px;width:52.50px;height:14.00px;background:rgb(95,0,0)"></i>
<i style="left:103.80px;top:131.00px;width:52.50px;height:14.00px;background:rgb(130,0,0)"></i>
<i style="left:155.80px;top:131.00px;width:51.50px;height:14.00px;background:rgb(88,0,0)"></i>
<i style="left:-0.20px;top:144.50px;width:52.50px;height:14.50px;background:rgb(0,100,0)"></i>
<i style="left:51.80px;top:144.50px;width:52.50px;height:14.50px;background:rgb(88,0,0)"></i>
<i style="left:103.80px;top:144.50px;width:52.50px;height:14.50px;background:rgb(95,0,0)"></i>
<i style="left:155.80px;top:144.50px;width:51.50px;height:14.50px;background:rgb(108,0,0)"></i>
<i style="left:-0.20px;top:158.50px;width:52.50px;height:15.00px;background:rgb(0,100,0)"></i>
<i style="left:51.80px;top:158.50px;width:52.50px;height:15.00px;background:rgb(90,0,0)"></i>
<i style="left:103.80px;top:158.50px;width:52.50px;height:15.00px;background:rgb(88,0,0)"></i>
<i style="left:155.80px;top:158.50px;width:51.50px;height:15.00px;background:rgb(112,0,0)"></i>
<i style="left:-0.20px;top:173.00px;width:52.50px;height:14.50px;background:rgb(0,100,0)"></i>
<i style="left:51.80px;top:173.00px;width:52.50px;height:14.50px;background:rgb(95,0,0)"></i>
<i style="left:103.80px;top:173.00px;width:52.50px;height:14.50px;background:rgb(105,0,0)"></i>
<i style="left:155.80px;top:173.00px;width:51.50px;height:14.50px;background:rgb(112,0,0)"></i>
<i style="left:-0.20px;top:187.00px;width:52.50px;height:14.50px;background:rgb(0,100,0)"></i>
<i style="left:51.80px;top:187.00px;width:52.50px;height:14.50px;background:rgb(105,0,0)"></i>
<i style="left:103.80px;top:187.00px;width:52.50px;height:14.50px;background:rgb(110,0,0)"></i>
<i style="left:155.80px;top:187.00px;width:51.50px;height:14.50px;background:rgb(140,0,0)"></i>
<i style="left:-0.20px;top:201.00px;width:52.50px;height:15.00px;background:rgb(0,128,0)"></i>
<i style="left:51.80px;top:201.00px;width:52.50px;height:15.00px;background:rgb(88,0,0)"></i>
<i style="left:103.80px;top:201.00px;width:52.50px;height:15.00px;background:rgb(0,108,0)"></i>
<i style="left:155.80px;top:201.00px;width:51.50px;height:15.00px;background:rgb(115,0,0)"></i>
<i style="left:-0.20px;top:215.50px;width:52.50px;height:14.50px;background:rgb(0,100,0)"></i>
<i style="left:51.80px;top:215.50px;width:52.50px;height:14.50px;background:rgb(140,0,0)"></i>
<i style="left:103.80px;top:215.50px;width:52.50px;height:14.50px;background:rgb(130,0,0)"></i>
<i style="left:155.80px;top:215.50px;width:51.50px;height:14.50px;background:rgb(165,0,0)"></i>
<i style="left:-0.20px;top:229.50px;width:52.50px;height:14.50px;background:rgb(0,100,0)"></i>
<i style="left:51.80px;top:229.50px;width:52.50px;height:14.50px;background:rgb(110,0,0)"></i>
<i style="left:103.80px;top:229.50px;width:52.50px;height:14.50px;background:rgb(135,0,0)"></i>
<i style="left:155.80px;top:229.50px;width:51.50px;height:14.50px;background:rgb(215,0,0)"></i>
<i style="left:-0.20px;top:243.50px;width:52.50px;height:15.00px;background:rgb(0,100,0)"></i>
<i style="left:51.80px;top:243.50px;width:52.50px;height:15.00px;background:rgb(98,0,0)"></i>
<i style="left:103.80px;top:243.50px;width:52.50px;height:15.00px;background:rgb(95,0,0)"></i>
<i style="left:155.80px;top:243.50px;width:51.50px;height:15.00px;background:rgb(120,0,0)"></i>
<i style="left:-0.20px;top:258.00px;width:52.50px;height:14.50px;background:rgb(0,150,0)"></i>
<i style="left:51.80px;top:258.00px;width:52.50px;height:14.50px;background:rgb(0,108,0)"></i>
<i style="left:103.80px;top:258.00px;width:52.50px;height:14.50px;background:rgb(105,0,0)"></i>
<i style="left:155.80px;top:258.00px;width:51.50px;height:14.50px;background:rgb(0,108,0)"></i>
<i style="left:-0.20px;top:272.00px;width:52.50px;height:14.50px;background:rgb(0,100,0)"></i>
<i style="left:51.80px;top:272.00px;width:52.50px;height:14.50px;background:rgb(92,0,0)"></i>
<i style="left:103.80px;top:272.00px;width:52.50px;height:14.50px;background:rgb(95,0,0)"></i>
<i style="left:155.80px;top:272.00px;width:51.50px;height:14.50px;background:rgb(0,98,0)"></i>
<i style="left:-0.20px;top:286.00px;width:52.50px;height:15.00px;background:rgb(100,0,0)"></i>
<i style="left:51.80px;top:286.00px;width:52.50px;height:15.00px;background:rgb(98,0,0)"></i>
<i style="left:103.80px;top:286.00px;width:52.50px;height:15.00px;background:rgb(90,0,0)"></i>
<i style="left:155.80px;top:286.00px;width:51.50px;height:15.00px;background:rgb(0,98,0)"></i>
<i style="left:-0.20px;top:300.50px;width:52.50px;height:14.50px;background:rgb(0,130,0)"></i>
<i style="left:51.80px;top:300.50px;width:52.50px;height:14.50px;background:rgb(108,0,0)"></i>
<i style="left:103.80px;top:300.50px;width:52.50px;height:14.50px;background:rgb(100,0,0)"></i>
<i style="left:155.80px;top:300.50px;width:51.50px;height:14.50px;background:rgb(0,98,0)"></i>
<i style="left:-0.20px;top:314.50px;width:52.50px;height:15.00px;background:rgb(0,130,0)"></i>
<i style="left:51.80px;top:314.50px;width:52.50px;height:15.00px;background:rgb(0,118,0)"></i>
<i style="left:103.80px;top:314.50px;width:52.50px;height:15.00px;background:rgb(92,0,0)"></i>
<i style="left:155.80px;top:314.50px;width:51.50px;height:15.00px;background:rgb(0,135,0)"></i>
<i style="left:-0.20px;top:329.00px;width:52.50px;height:14.50px;background:rgb(0,112,0)"></i>
<i style="left:51.80px;top:329.00px;width:52.50px;height:14.50px;background:rgb(118,0,0)"></i>
<i style="left:103.80px;top:329.00px;width:52.50px;height:14.50px;background:rgb(105,0,0)"></i>
<i style="left:155.80px;top:329.00px;width:51.50px;height:14.50px;background:rgb(0,110,0)"></i>
<i style="left:-0.20px;top:343.00px;width:52.50px;height:14.50px;background:rgb(0,118,0)"></i>
<i style="left:51.80px;top:343.00px;width:52.50px;height:14.50px;background:rgb(125,0,0)"></i>
<i style="left:103.80px;top:343.00px;width:52.50px;height:14.50px;background:rgb(105,0,0)"></i>
<i style="left:155.80px;top:343.00px;width:51.50px;height:14.50px;background:rgb(0,120,0)"></i>
<i style="left:-0.20px;top:357.00px;width:52.50px;height:15.00px;background:rgb(100,0,0)"></i>
<i style="left:51.80px;top:357.00px;width:52.50px;height:15.00px;background:rgb(118,0,0)"></i>
<i style="left:103.80px;top:357.00px;width:52.50px;height:15.00px;background:rgb(128,0,0)"></i>
<i style="left:155.80px;top:357.00px;width:51.50px;height:15.00px;background:rgb(172,0,0)"></i>
<i style="left:-0.20px;top:371.50px;width:52.50px;height:14.50px;background:rgb(135,0,0)"></i>
<i style="left:51.80px;top:371.50px;width:52.50px;height:14.50px;background:rgb(120,0,0)"></i>
<i style="left:103.80px;top:371.50px;width:52.50px;height:14.50px;background:rgb(105,0,0)"></i>
<i style="left:155.80px;top:371.50px;width:51.50px;height:14.50px;background:rgb(178,0,0)"></i>
<i style="left:-0.20px;top:385.50px;width:52.50px;height:14.50px;background:rgb(108,0,0)"></i>
<i style="left:51.80px;top:385.50px;width:52.50px;height:14.50px;background:rgb(118,0,0)"></i>
<i style="left:103.80px;top:385.50px;width:52.50px;height:14.50px;background:rgb(140,0,0)"></i>
<i style="left:155.80px;top:385.50px;width:51.50px;height:14.50px;background:rgb(192,0,0)"></i>
<i style="left:-0.20px;top:399.50px;width:52.50px;height:15.00px;background:rgb(130,0,0)"></i>
<i style="left:51.80px;top:399.50px;width:52.50px;height:15.00px;background:rgb(88,0,0)"></i>
<i style="left:103.80px;top:399.50px;width:52.50px;height:15.00px;background:rgb(95,0,0)"></i>
<i style="left:155.80px;top:399.50px;width:51.50px;height:15.00px;background:rgb(115,0,0)"></i>
<i style="left:-0.20px;top:414.00px;width:52.50px;height:14.50px;background:rgb(92,0,0)"></i>
<i style="left:51.80px;top:414.00px;width:52.50px;height:14.50px;background:rgb(92,0,0)"></i>
<i style="left:103.80px;top:414.00px;width:52.50px;height:14.50px;background:rgb(95,0,0)"></i>
<i style="left:155.80px;top:414.00px;width:51.50px;height:14.50px;background:rgb(125,0,0)"></i>
<i style="left:-0.20px;top:428.00px;width:52.50px;height:15.00px;background:rgb(98,0,0)"></i>
<i style="left:51.80px;top:428.00px;width:52.50px;height:15.00px;background:rgb(110,0,0)"></i>
<i style="left:103.80px;top:428.00px;width:52.50px;height:15.00px;background:rgb(105,0,0)"></i>
<i style="left:155.80px;top:428.00px;width:51.50px;height:15.00px;background:rgb(132,0,0)"></i>
<i style="left:-0.20px;top:442.50px;width:52.50px;height:14.50px;background:rgb(92,0,0)"></i>
<i style="left:51.80px;top:442.50px;width:52.50px;height:14.50px;background:rgb(110,0,0)"></i>
<i style="left:103.80px;top:442.50px;width:52.50px;height:14.50px;background:rgb(135,0,0)"></i>
<i style="left:155.80px;top:442.50px;width:51.50px;height:14.50px;background:rgb(185,0,0)"></i>
<i style="left:-0.20px;top:456.50px;width:52.50px;height:14.50px;background:rgb(92,0,0)"></i>
<i style="left:51.80px;top:456.50px;width:52.50px;height:14.50px;background:rgb(92,0,0)"></i>
<i style="left:103.80px;top:456.50px;width:52.50px;height:14.50px;background:rgb(95,0,0)"></i>
<i style="left:155.80px;top:456.50px;width:51.50px;height:14.50px;background:rgb(105,0,0)"></i>
<i style="left:-0.20px;top:470.50px;width:52.50px;height:15.00px;background:rgb(102,0,0)"></i>
<i style="left:51.80px;top:470.50px;width:52.50px;height:15.00px;background:rgb(165,0,0)"></i>
<i style="left:103.80px;top:470.50px;width:52.50px;height:15.00px;background:rgb(135,0,0)"></i>
<i style="left:155.80px;top:470.50px;width:51.50px;height:15.00px;background:rgb(165,0,0)"></i>
<i style="left:-0.20px;top:485.00px;width:52.50px;height:14.50px;background:rgb(102,0,0)"></i>
<i style="left:51.80px;top:485.00px;width:52.50px;height:14.50px;background:rgb(105,0,0)"></i>
<i style="left:103.80px;top:485.00px;width:52.50px;height:14.50px;background:rgb(92,0,0)"></i>
<i style="left:155.80px;top:485.00px;width:51.50px;height:14.50px;background:rgb(140,0,0)"></i>
<i style="left:-0.20px;top:499.00px;width:52.50px;height:14.50px;background:rgb(100,0,0)"></i>
<i style="left:51.80px;top:499.00px;width:52.50px;height:14.50px;background:rgb(95,0,0)"></i>
<i style="left:103.80px;top:499.00px;width:52.50px;height:14.50px;background:rgb(92,0,0)"></i>
<i style="left:155.80px;top:499.00px;width:51.50px;height:14.50px;background:rgb(118,0,0)"></i>
<i style="left:-0.20px;top:513.00px;width:52.50px;height:15.00px;background:rgb(108,0,0)"></i>
<i style="left:51.80px;top:513.00px;width:52.50px;height:15.00px;background:rgb(135,0,0)"></i>
<i style="left:103.80px;top:513.00px;width:52.50px;height:15.00px;background:rgb(118,0,0)"></i>
<i style="left:155.80px;top:513.00px;width:51.50px;height:15.00px;background:rgb(145,0,0)"></i>
<i style="left:-0.20px;top:527.50px;width:52.50px;height:15.00px;background:rgb(105,0,0)"></i>
<i style="left:51.80px;top:527.50px;width:52.50px;height:15.00px;background:rgb(0,105,0)"></i>
<i style="left:103.80px;top:527.50px;width:52.50px;height:15.00px;background:rgb(95,0,0)"></i>
<i style="left:155.80px;top:527.50px;width:51.50px;height:15.00px;background:rgb(98,0,0)"></i>
</div>
<div class="hm" style="left:672.20px;top:79.67px;transform:scale(1.0540,1.1060)">
<div class="ch" style="left:24.62px">0dvs1d</div>
<div class="ch" style="left:73.88px">0dvs5d</div>
<div class="ch" style="left:123.12px">0dvs7d</div>
<div class="ch" style="left:172.38px">0dvs12</div>
</div>
<div class="hm" style="left:672.20px;top:79.67px;transform:scale(1.0540,1.1060)">
<div class="labels">
<div>NP_001085604</div>
<div>NP_001085755</div>
<div>NP_001080690</div>
<div>NP_001083300</div>
<div>AAI14655</div>
<div>NP_001016063</div>
<div>NP_001016161</div>
<div>AAZ38887</div>
<div>AAH91705</div>
<div>NP_001016375</div>
<div>CAJ83196</div>
<div>AAY98517</div>
<div>NP_057125</div>
<div>NP_001128277</div>
<div>AAH84069</div>
<div>NP_001087821</div>
<div>NP_001006723</div>
<div>AAI22087</div>
<div>NP_001086785</div>
<div>AAH61282</div>
<div>CAA71487</div>
<div>CAA57512</div>
<div>AAH64227</div>
<div>NP_001128500</div>
<div>NP_001017091</div>
<div>AAH43635</div>
<div>NP_001087503</div>
<div>NP_001087910</div>
<div>AAH75171</div>
</div>
</div>
<div class="g" style="left:1021.40px;top:0px">
<i style="left:0.10px;top:137.00px;width:52.00px;height:15.50px;background:rgb(100,0,0)"></i>
<i style="left:51.60px;top:137.00px;width:52.50px;height:15.50px;background:rgb(105,0,0)"></i>
<i style="left:103.60px;top:137.00px;width:52.00px;height:15.50px;background:rgb(92,0,0)"></i>
<i style="left:155.10px;top:137.00px;width:52.00px;height:15.50px;background:rgb(125,0,0)"></i>
<i style="left:0.10px;top:152.00px;width:52.00px;height:16.00px;background:rgb(105,0,0)"></i>
<i style="left:51.60px;top:152.00px;width:52.50px;height:16.00px;background:rgb(140,0,0)"></i>
<i style="left:103.60px;top:152.00px;width:52.00px;height:16.00px;background:rgb(140,0,0)"></i>
<i style="left:155.10px;top:152.00px;width:52.00px;height:16.00px;background:rgb(210,0,0)"></i>
<i style="left:0.10px;top:167.50px;width:52.00px;height:16.00px;background:rgb(115,0,0)"></i>
<i style="left:51.60px;top:167.50px;width:52.50px;height:16.00px;background:rgb(138,0,0)"></i>
<i style="left:103.60px;top:167.50px;width:52.00px;height:16.00px;background:rgb(120,0,0)"></i>
<i style="left:155.10px;top:167.50px;width:52.00px;height:16.00px;background:rgb(130,0,0)"></i>
<i style="left:0.10px;top:183.00px;width:52.00px;height:16.00px;background:rgb(115,0,0)"></i>
<i style="left:51.60px;top:183.00px;width:52.50px;height:16.00px;background:rgb(150,0,0)"></i>
<i style="left:103.60px;top:183.00px;width:52.00px;height:16.00px;background:rgb(135,0,0)"></i>
<i style="left:155.10px;top:183.00px;width:52.00px;height:16.00px;background:rgb(132,0,0)"></i>
<i style="left:0.10px;top:198.50px;width:52.00px;height:16.00px;background:rgb(210,0,0)"></i>
<i style="left:51.60px;top:198.50px;width:52.50px;height:16.00px;background:rgb(180,0,0)"></i>
<i style="left:103.60px;top:198.50px;width:52.00px;height:16.00px;background:rgb(98,0,0)"></i>
<i style="left:155.10px;top:198.50px;width:52.00px;height:16.00px;background:rgb(110,0,0)"></i>
<i style="left:0.10px;top:214.00px;width:52.00px;height:16.00px;background:rgb(108,0,0)"></i>
<i style="left:51.60px;top:214.00px;width:52.50px;height:16.00px;background:rgb(108,0,0)"></i>
<i style="left:103.60px;top:214.00px;width:52.00px;height:16.00px;background:rgb(105,0,0)"></i>
<i style="left:155.10px;top:214.00px;width:52.00px;height:16.00px;background:rgb(135,0,0)"></i>
<i style="left:0.10px;top:229.50px;width:52.00px;height:16.00px;background:rgb(98,0,0)"></i>
<i style="left:51.60px;top:229.50px;width:52.50px;height:16.00px;background:rgb(118,0,0)"></i>
<i style="left:103.60px;top:229.50px;width:52.00px;height:16.00px;background:rgb(115,0,0)"></i>
<i style="left:155.10px;top:229.50px;width:52.00px;height:16.00px;background:rgb(175,0,0)"></i>
<i style="left:0.10px;top:245.00px;width:52.00px;height:16.00px;background:rgb(105,0,0)"></i>
<i style="left:51.60px;top:245.00px;width:52.50px;height:16.00px;background:rgb(108,0,0)"></i>
<i style="left:103.60px;top:245.00px;width:52.00px;height:16.00px;background:rgb(100,0,0)"></i>
<i style="left:155.10px;top:245.00px;width:52.00px;height:16.00px;background:rgb(105,0,0)"></i>
<i style="left:0.10px;top:260.50px;width:52.00px;height:16.00px;background:rgb(105,0,0)"></i>
<i style="left:51.60px;top:260.50px;width:52.50px;height:16.00px;background:rgb(150,0,0)"></i>
<i style="left:103.60px;top:260.50px;width:52.00px;height:16.00px;background:rgb(125,0,0)"></i>
<i style="left:155.10px;top:260.50px;width:52.00px;height:16.00px;background:rgb(125,0,0)"></i>
<i style="left:0.10px;top:276.00px;width:52.00px;height:16.00px;background:rgb(90,0,0)"></i>
<i style="left:51.60px;top:276.00px;width:52.50px;height:16.00px;background:rgb(92,0,0)"></i>
<i style="left:103.60px;top:276.00px;width:52.00px;height:16.00px;background:rgb(88,0,0)"></i>
<i style="left:155.10px;top:276.00px;width:52.00px;height:16.00px;background:rgb(118,0,0)"></i>
<i style="left:0.10px;top:291.50px;width:52.00px;height:16.00px;background:rgb(100,0,0)"></i>
<i style="left:51.60px;top:291.50px;width:52.50px;height:16.00px;background:rgb(118,0,0)"></i>
<i style="left:103.60px;top:291.50px;width:52.00px;height:16.00px;background:rgb(100,0,0)"></i>
<i style="left:155.10px;top:291.50px;width:52.00px;height:16.00px;background:rgb(100,0,0)"></i>
<i style="left:0.10px;top:307.00px;width:52.00px;height:16.00px;background:rgb(100,0,0)"></i>
<i style="left:51.60px;top:307.00px;width:52.50px;height:16.00px;background:rgb(105,0,0)"></i>
<i style="left:103.60px;top:307.00px;width:52.00px;height:16.00px;background:rgb(105,0,0)"></i>
<i style="left:155.10px;top:307.00px;width:52.00px;height:16.00px;background:rgb(118,0,0)"></i>
<i style="left:0.10px;top:322.50px;width:52.00px;height:16.00px;background:rgb(100,0,0)"></i>
<i style="left:51.60px;top:322.50px;width:52.50px;height:16.00px;background:rgb(0,122,0)"></i>
<i style="left:103.60px;top:322.50px;width:52.00px;height:16.00px;background:rgb(0,112,0)"></i>
<i style="left:155.10px;top:322.50px;width:52.00px;height:16.00px;background:rgb(95,0,0)"></i>
<i style="left:0.10px;top:338.00px;width:52.00px;height:16.50px;background:rgb(100,0,0)"></i>
<i style="left:51.60px;top:338.00px;width:52.50px;height:16.50px;background:rgb(0,105,0)"></i>
<i style="left:103.60px;top:338.00px;width:52.00px;height:16.50px;background:rgb(0,115,0)"></i>
<i style="left:155.10px;top:338.00px;width:52.00px;height:16.50px;background:rgb(0,128,0)"></i>
<i style="left:0.10px;top:354.00px;width:52.00px;height:16.00px;background:rgb(105,0,0)"></i>
<i style="left:51.60px;top:354.00px;width:52.50px;height:16.00px;background:rgb(0,120,0)"></i>
<i style="left:103.60px;top:354.00px;width:52.00px;height:16.00px;background:rgb(0,98,0)"></i>
<i style="left:155.10px;top:354.00px;width:52.00px;height:16.00px;background:rgb(100,0,0)"></i>
<i style="left:0.10px;top:369.50px;width:52.00px;height:16.00px;background:rgb(98,0,0)"></i>
<i style="left:51.60px;top:369.50px;width:52.50px;height:16.00px;background:rgb(0,120,0)"></i>
<i style="left:103.60px;top:369.50px;width:52.00px;height:16.00px;background:rgb(0,98,0)"></i>
<i style="left:155.10px;top:369.50px;width:52.00px;height:16.00px;background:rgb(140,0,0)"></i>
<i style="left:0.10px;top:385.00px;width:52.00px;height:16.00px;background:rgb(100,0,0)"></i>
<i style="left:51.60px;top:385.00px;width:52.50px;height:16.00px;background:rgb(0,102,0)"></i>
<i style="left:103.60px;top:385.00px;width:52.00px;height:16.00px;background:rgb(0,135,0)"></i>
<i style="left:155.10px;top:385.00px;width:52.00px;height:16.00px;background:rgb(0,125,0)"></i>
<i style="left:0.10px;top:400.50px;width:52.00px;height:16.00px;background:rgb(120,0,0)"></i>
<i style="left:51.60px;top:400.50px;width:52.50px;height:16.00px;background:rgb(0,115,0)"></i>
<i style="left:103.60px;top:400.50px;width:52.00px;height:16.00px;background:rgb(0,112,0)"></i>
<i style="left:155.10px;top:400.50px;width:52.00px;height:16.00px;background:rgb(0,130,0)"></i>
<i style="left:0.10px;top:416.00px;width:52.00px;height:16.00px;background:rgb(0,105,0)"></i>
<i style="left:51.60px;top:416.00px;width:52.50px;height:16.00px;background:rgb(0,105,0)"></i>
<i style="left:103.60px;top:416.00px;width:52.00px;height:16.00px;background:rgb(0,100,0)"></i>
<i style="left:155.10px;top:416.00px;width:52.00px;height:16.00px;background:rgb(105,0,0)"></i>
<i style="left:0.10px;top:431.50px;width:52.00px;height:16.00px;background:rgb(95,0,0)"></i>
<i style="left:51.60px;top:431.50px;width:52.50px;height:16.00px;background:rgb(95,0,0)"></i>
<i style="left:103.60px;top:431.50px;width:52.00px;height:16.00px;background:rgb(0,100,0)"></i>
<i style="left:155.10px;top:431.50px;width:52.00px;height:16.00px;background:rgb(0,125,0)"></i>
<i style="left:0.10px;top:447.00px;width:52.00px;height:16.00px;background:rgb(115,0,0)"></i>
<i style="left:51.60px;top:447.00px;width:52.50px;height:16.00px;background:rgb(0,108,0)"></i>
<i style="left:103.60px;top:447.00px;width:52.00px;height:16.00px;background:rgb(0,105,0)"></i>
<i style="left:155.10px;top:447.00px;width:52.00px;height:16.00px;background:rgb(98,0,0)"></i>
<i style="left:0.10px;top:462.50px;width:52.00px;height:16.00px;background:rgb(105,0,0)"></i>
<i style="left:51.60px;top:462.50px;width:52.50px;height:16.00px;background:rgb(0,105,0)"></i>
<i style="left:103.60px;top:462.50px;width:52.00px;height:16.00px;background:rgb(0,125,0)"></i>
<i style="left:155.10px;top:462.50px;width:52.00px;height:16.00px;background:rgb(0,132,0)"></i>
<i style="left:0.10px;top:478.00px;width:52.00px;height:16.00px;background:rgb(92,0,0)"></i>
<i style="left:51.60px;top:478.00px;width:52.50px;height:16.00px;background:rgb(0,110,0)"></i>
<i style="left:103.60px;top:478.00px;width:52.00px;height:16.00px;background:rgb(0,100,0)"></i>
<i style="left:155.10px;top:478.00px;width:52.00px;height:16.00px;background:rgb(0,132,0)"></i>
<i style="left:0.10px;top:493.50px;width:52.00px;height:16.00px;background:rgb(0,135,0)"></i>
<i style="left:51.60px;top:493.50px;width:52.50px;height:16.00px;background:rgb(0,145,0)"></i>
<i style="left:103.60px;top:493.50px;width:52.00px;height:16.00px;background:rgb(0,140,0)"></i>
<i style="left:155.10px;top:493.50px;width:52.00px;height:16.00px;background:rgb(0,135,0)"></i>
<i style="left:0.10px;top:509.00px;width:52.00px;height:16.00px;background:rgb(0,108,0)"></i>
<i style="left:51.60px;top:509.00px;width:52.50px;height:16.00px;background:rgb(0,105,0)"></i>
<i style="left:103.60px;top:509.00px;width:52.00px;height:16.00px;background:rgb(0,135,0)"></i>
<i style="left:155.10px;top:509.00px;width:52.00px;height:16.00px;background:rgb(0,130,0)"></i>
<i style="left:0.10px;top:524.50px;width:52.00px;height:16.00px;background:rgb(0,125,0)"></i>
<i style="left:51.60px;top:524.50px;width:52.50px;height:16.00px;background:rgb(0,112,0)"></i>
<i style="left:103.60px;top:524.50px;width:52.00px;height:16.00px;background:rgb(0,105,0)"></i>
<i style="left:155.10px;top:524.50px;width:52.00px;height:16.00px;background:rgb(0,100,0)"></i>
<i style="left:0.10px;top:540.00px;width:52.00px;height:16.00px;background:rgb(0,100,0)"></i>
<i style="left:51.60px;top:540.00px;width:52.50px;height:16.00px;background:rgb(0,175,0)"></i>
<i style="left:103.60px;top:540.00px;width:52.00px;height:16.00px;background:rgb(10,215,0)"></i>
<i style="left:155.10px;top:540.00px;width:52.00px;height:16.00px;background:rgb(10,252,0)"></i>
<i style="left:0.10px;top:555.50px;width:52.00px;height:16.00px;background:rgb(0,118,0)"></i>
<i style="left:51.60px;top:555.50px;width:52.50px;height:16.00px;background:rgb(0,145,0)"></i>
<i style="left:103.60px;top:555.50px;width:52.00px;height:16.00px;background:rgb(0,138,0)"></i>
<i style="left:155.10px;top:555.50px;width:52.00px;height:16.00px;background:rgb(0,185,0)"></i>
<i style="left:0.10px;top:571.00px;width:52.00px;height:16.00px;background:rgb(0,148,0)"></i>
<i style="left:51.60px;top:571.00px;width:52.50px;height:16.00px;background:rgb(0,140,0)"></i>
<i style="left:103.60px;top:571.00px;width:52.00px;height:16.00px;background:rgb(0,145,0)"></i>
<i style="left:155.10px;top:571.00px;width:52.00px;height:16.00px;background:rgb(0,165,0)"></i>
<i style="left:0.10px;top:586.50px;width:52.00px;height:16.00px;background:rgb(0,122,0)"></i>
<i style="left:51.60px;top:586.50px;width:52.50px;height:16.00px;background:rgb(0,155,0)"></i>
<i style="left:103.60px;top:586.50px;width:52.00px;height:16.00px;background:rgb(0,150,0)"></i>
<i style="left:155.10px;top:586.50px;width:52.00px;height:16.00px;background:rgb(0,180,0)"></i>
<i style="left:0.10px;top:602.00px;width:52.00px;height:16.00px;background:rgb(0,108,0)"></i>
<i style="left:51.60px;top:602.00px;width:52.50px;height:16.00px;background:rgb(0,102,0)"></i>
<i style="left:103.60px;top:602.00px;width:52.00px;height:16.00px;background:rgb(0,112,0)"></i>
<i style="left:155.10px;top:602.00px;width:52.00px;height:16.00px;background:rgb(0,125,0)"></i>
<i style="left:0.10px;top:617.50px;width:52.00px;height:16.00px;background:rgb(0,160,0)"></i>
<i style="left:51.60px;top:617.50px;width:52.50px;height:16.00px;background:rgb(0,150,0)"></i>
<i style="left:103.60px;top:617.50px;width:52.00px;height:16.00px;background:rgb(0,165,0)"></i>
<i style="left:155.10px;top:617.50px;width:52.00px;height:16.00px;background:rgb(10,250,0)"></i>
<i style="left:0.10px;top:633.00px;width:52.00px;height:16.00px;background:rgb(0,155,0)"></i>
<i style="left:51.60px;top:633.00px;width:52.50px;height:16.00px;background:rgb(0,92,0)"></i>
<i style="left:103.60px;top:633.00px;width:52.00px;height:16.00px;background:rgb(0,135,0)"></i>
<i style="left:155.10px;top:633.00px;width:52.00px;height:16.00px;background:rgb(0,185,0)"></i>
<i style="left:0.10px;top:648.50px;width:52.00px;height:16.00px;background:rgb(0,125,0)"></i>
<i style="left:51.60px;top:648.50px;width:52.50px;height:16.00px;background:rgb(0,108,0)"></i>
<i style="left:103.60px;top:648.50px;width:52.00px;height:16.00px;background:rgb(0,120,0)"></i>
<i style="left:155.10px;top:648.50px;width:52.00px;height:16.00px;background:rgb(0,112,0)"></i>
<i style="left:0.10px;top:664.00px;width:52.00px;height:16.50px;background:rgb(0,100,0)"></i>
<i style="left:51.60px;top:664.00px;width:52.50px;height:16.50px;background:rgb(0,125,0)"></i>
<i style="left:103.60px;top:664.00px;width:52.00px;height:16.50px;background:rgb(0,120,0)"></i>
<i style="left:155.10px;top:664.00px;width:52.00px;height:16.50px;background:rgb(0,108,0)"></i>
<i style="left:0.10px;top:680.00px;width:52.00px;height:17.00px;background:rgb(0,125,0)"></i>
<i style="left:51.60px;top:680.00px;width:52.50px;height:17.00px;background:rgb(0,115,0)"></i>
<i style="left:103.60px;top:680.00px;width:52.00px;height:17.00px;background:rgb(0,115,0)"></i>
<i style="left:155.10px;top:680.00px;width:52.00px;height:17.00px;background:rgb(0,100,0)"></i>
<i style="left:0;top:135.05px;width:206.88px;height:1px;background:#e8bcbc"></i>
</div>
<div class="hm" style="left:1021.40px;top:80.75px;transform:scale(1.0540,1.2097)">
<div class="ch" style="left:24.62px">0dvs1d</div>
<div class="ch" style="left:73.88px">0dvs5d</div>
<div class="ch" style="left:123.12px">0dvs7d</div>
<div class="ch" style="left:172.38px">0dvs12</div>
</div>
<div class="hm" style="left:1021.40px;top:80.15px;transform:scale(1.0540,1.2097)">
<div class="labels">
<div>AAH84389</div>
<div>NP_001079570</div>
<div>NP_001085403</div>
<div>NP_001087296</div>
<div>NP_001082037</div>
<div>NP_999875</div>
<div>NP_001087612</div>
<div>NP_001107696</div>
<div>AAH54235</div>
<div>NP_001087743</div>
<div>BAA36581</div>
<div>AAB51432</div>
<div>NP_001081217</div>
<div>AAH61284</div>
<div>AAF80255</div>
<div>NP_004229</div>
<div>NP_001121438</div>
<div>NP_001005628</div>
<div>NP_001013632</div>
<div>NP_001008105</div>
<div>NP_001088269</div>
<div>NP_001136375</div>
<div>NP_001005701</div>
<div>CAJ83337</div>
<div>NP_001124002</div>
<div>NP_002798</div>
<div>AAH45091</div>
<div>NP_001016834</div>
<div>AAI21963</div>
<div>NP_001089665</div>
<div>NP_001011278</div>
<div>AAO31611</div>
<div>NP_001088447</div>
<div>NP_001120565</div>
<div>NP_001088835</div>
<div>NP_001089382</div>
</div>
</div>
<div style="position:absolute;left:531px;top:126px;width:62px;height:0;border-top:1px dashed #444;"></div>
</body></html>
